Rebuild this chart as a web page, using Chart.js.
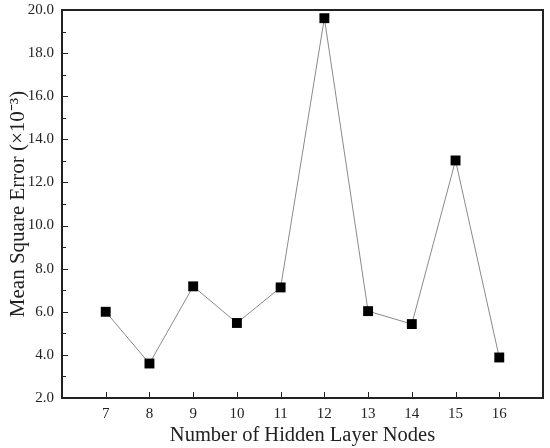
<!DOCTYPE html>
<html><head><meta charset="utf-8">
<script src="https://cdn.jsdelivr.net/npm/chart.js@4"></script>
<style>html,body{margin:0;padding:0;background:#fff}#wrap{width:550px;height:448px}</style>
</head><body><div id="wrap"><canvas id="c" width="550" height="448"></canvas></div>
<script>
const nodes = [7, 8, 9, 10, 11, 12, 13, 14, 15, 16];
const mse = [6.0, 3.6, 7.18, 5.48, 7.13, 19.62, 6.03, 5.43, 13.02, 3.88];
const xTickLabels = ['7','8','9','10','11','12','13','14','15','16'];
const yTickLabels = ['2.0','4.0','6.0','8.0','10.0','12.0','14.0','16.0','18.0','20.0'];

const FONT = '"Liberation Serif", "Times New Roman", serif';

const frame = {
  id: 'frame',
  afterDraw(chart) {
    const {ctx, chartArea: a, scales: {x, y}} = chart;
    ctx.save();
    ctx.strokeStyle = '#222';
    ctx.lineWidth = 1;
    nodes.forEach(v => {
      const px = Math.round(x.getPixelForValue(v)) + 0.5;
      ctx.beginPath(); ctx.moveTo(px, a.bottom); ctx.lineTo(px, a.bottom - 6); ctx.stroke();
    });
    for (let v = y.min; v <= y.max; v += 1) {
      const py = Math.round(y.getPixelForValue(v)) + 0.5;
      const len = (Math.round(v) % 2 === 0) ? 6 : 4;
      ctx.beginPath(); ctx.moveTo(a.left, py); ctx.lineTo(a.left + len, py); ctx.stroke();
    }
    ctx.lineWidth = 2;
    ctx.strokeRect(a.left, a.top, a.right - a.left, a.bottom - a.top);
    ctx.restore();
  }
};

new Chart(document.getElementById('c'), {
  type: 'line',
  data: {
    datasets: [{
      data: nodes.map((n, i) => ({x: n, y: mse[i]})),
      borderColor: '#8a8a8a',
      borderWidth: 1,
      pointStyle: 'rect',
      pointRadius: 7,
      pointBackgroundColor: '#000',
      pointBorderColor: '#000',
      pointBorderWidth: 0,
      tension: 0
    }]
  },
  plugins: [frame],
  options: {
    responsive: false,
    animation: false,
    layout: {padding: {top: 10, right: 3, left: 6, bottom: 0}},
    plugins: {legend: {display: false}, tooltip: {enabled: false}},
    scales: {
      x: {
        type: 'linear', min: 6, max: 17,
        grid: {display: false, drawTicks: false},
        border: {display: false},
        afterFit: s => { s.height = 50; s.paddingLeft = 0; s.paddingRight = 0; },
        ticks: {
          stepSize: 1, padding: 7, color: '#222',
          font: {family: FONT, size: 15},
          callback: v => { const i = nodes.indexOf(v); return i >= 0 ? xTickLabels[i] : ''; }
        },
        title: {display: true, text: 'Number of Hidden Layer Nodes', color: '#222',
          font: {family: FONT, size: 20.5}, padding: {top: 0, bottom: 0}}
      },
      y: {
        type: 'linear', min: 2, max: 20,
        grid: {display: false, drawTicks: false},
        border: {display: false},
        afterFit: s => { s.width = 56; s.paddingTop = 0; s.paddingBottom = 0; },
        ticks: {
          stepSize: 2, padding: 8, color: '#222',
          font: {family: FONT, size: 15},
          callback: v => yTickLabels[Math.round((v - 2) / 2)] || ''
        },
        title: {display: true, text: 'Mean Square Error (×10⁻³)', color: '#222',
          font: {family: FONT, size: 21}, padding: {top: 0, bottom: 0}}
      }
    }
  }
});
</script></body></html>
